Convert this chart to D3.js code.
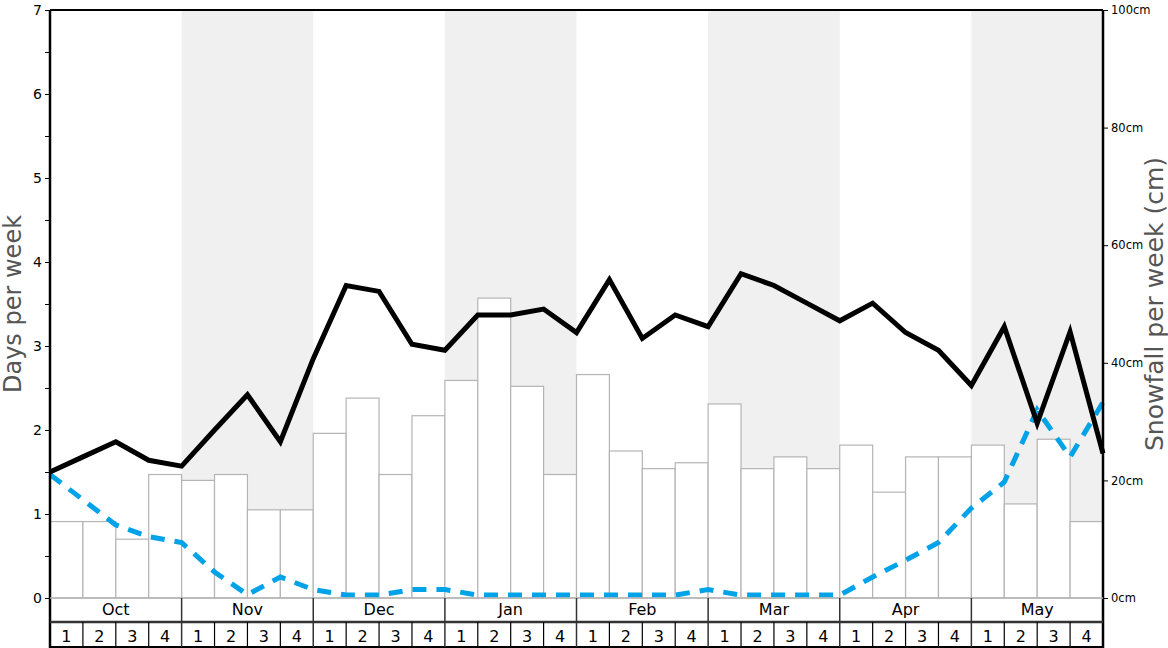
<!DOCTYPE html>
<html><head><meta charset="utf-8">
<script src="https://cdn.jsdelivr.net/npm/d3@7"></script>
<style>body{margin:0;background:#fff}svg{display:block;font-family:"DejaVu Sans",sans-serif}</style>
</head><body><svg id="c" width="1168" height="648"></svg>
<script>
const months = ["Oct","Nov","Dec","Jan","Feb","Mar","Apr","May"];
const weekLabels = ["1","2","3","4"];
const shadedMonths = ["Nov","Jan","Mar","May"];
// snowfall per week (cm), one per week
const snowfallCm = [13,13,10,21, 20,21,15,15, 28,34,21,31, 37,51,36,21, 38,25,22,23, 33,22,24,22, 26,18,24,24, 26,16,27,13];
// days per week lines, at week boundaries (33 points)
const blackDays = [1.5,1.68,1.86,1.64,1.57,2.0,2.42,1.86,2.85,3.72,3.65,3.02,2.95,3.37,3.37,3.44,3.16,3.79,3.09,3.37,3.23,3.86,3.72,3.51,3.30,3.51,3.16,2.95,2.53,3.23,2.08,3.17,1.72];
const blueDays = [1.47,1.17,0.87,0.73,0.66,0.31,0.04,0.25,0.1,0.035,0.035,0.1,0.1,0.035,0.035,0.035,0.035,0.035,0.035,0.035,0.1,0.035,0.035,0.035,0.035,0.25,0.45,0.66,1.07,1.38,2.24,1.68,2.33];
const leftTicks = [0,1,2,3,4,5,6,7];
const rightTicks = [0,20,40,60,80,100];

const svg = d3.select("#c");
const L = 50, R = 1103, T = 10, B = 598;
const nW = months.length * 4;
const x = d3.scaleLinear().domain([0, nW]).range([L, R]);
const yD = d3.scaleLinear().domain([0, 7]).range([B, T]);
const yC = d3.scaleLinear().domain([0, 100]).range([B, T]);

// shaded month bands
svg.selectAll("rect.band").data(months).enter().filter(m => shadedMonths.includes(m))
  .append("rect").attr("x", m => x(months.indexOf(m)*4)).attr("y", T)
  .attr("width", x(4)-x(0)).attr("height", B - T).attr("fill", "#f0f0f0");

// bars
svg.selectAll("rect.bar").data(snowfallCm).enter().append("rect")
  .attr("x", (d,i) => x(i)).attr("y", d => yC(d))
  .attr("width", x(1)-x(0)).attr("height", d => B - yC(d))
  .attr("fill", "#fff").attr("stroke", "#b4b4b4").attr("stroke-width", 1.2);

// lines
const line = d3.line().x((d,i) => x(i));
svg.append("path").datum(blueDays).attr("d", line.y(d => yD(d)))
  .attr("fill","none").attr("stroke","#00a2e8").attr("stroke-width",5).attr("stroke-dasharray","14,10");
svg.append("path").datum(blackDays).attr("d", line.y(d => yD(d)))
  .attr("fill","none").attr("stroke","#000").attr("stroke-width",5).attr("stroke-linejoin","miter");

// axes
const la = svg.append("g").attr("transform", `translate(${L},0)`)
  .call(d3.axisLeft(yD).tickValues(d3.range(0, 7.01, 0.5)).tickSize(5).tickFormat(d => Number.isInteger(d) ? d : ""));
la.select(".domain").remove();
la.selectAll("text").attr("font-size", 14).attr("fill","#000").attr("font-family","DejaVu Sans");
la.selectAll("line").attr("stroke","#000");
const ra = svg.append("g").attr("transform", `translate(${R},0)`)
  .call(d3.axisRight(yC).tickValues(rightTicks).tickSize(5).tickPadding(3).tickFormat(d => d + "cm"));
ra.select(".domain").remove();
ra.selectAll("text").attr("font-size", 11.5).attr("fill","#000").attr("font-family","DejaVu Sans");
ra.selectAll("line").attr("stroke","#000");

// frame
svg.append("line").attr("x1",L).attr("x2",R).attr("y1",T).attr("y2",T).attr("stroke","#000").attr("stroke-width",2);
svg.append("line").attr("x1",L).attr("x2",L).attr("y1",T).attr("y2",648).attr("stroke","#000").attr("stroke-width",2.5);
svg.append("line").attr("x1",R).attr("x2",R).attr("y1",T).attr("y2",648).attr("stroke","#000").attr("stroke-width",2.5);
svg.append("line").attr("x1",L).attr("x2",R).attr("y1",B).attr("y2",B).attr("stroke","#b4b4b4").attr("stroke-width",1.5);

// month row
const MY = 622, WY = 647;
svg.append("line").attr("x1",L).attr("x2",R).attr("y1",MY).attr("y2",MY).attr("stroke","#333").attr("stroke-width",2.5);
svg.append("line").attr("x1",L).attr("x2",R).attr("y1",WY).attr("y2",WY).attr("stroke","#000").attr("stroke-width",2);
months.forEach((m,mi) => {
  if (mi > 0) svg.append("line").attr("x1",x(mi*4)).attr("x2",x(mi*4)).attr("y1",B).attr("y2",WY).attr("stroke","#333").attr("stroke-width",1.5);
  svg.append("text").attr("x", x(mi*4+2)).attr("y", 615).attr("text-anchor","middle")
    .attr("font-size",16).attr("fill","#000").text(m);
  weekLabels.forEach((w,wi) => {
    const i = mi*4+wi;
    if (wi > 0) svg.append("line").attr("x1",x(i)).attr("x2",x(i)).attr("y1",MY).attr("y2",WY).attr("stroke","#000").attr("stroke-width",1.2);
    svg.append("text").attr("x", x(i+0.5)).attr("y", 642).attr("text-anchor","middle")
      .attr("font-size",16).attr("fill","#000").text(w);
  });
});

// axis titles
svg.append("text").attr("transform","translate(21,304) rotate(-90)").attr("text-anchor","middle")
  .attr("font-size",24).attr("fill","#555").text("Days per week");
svg.append("text").attr("transform","translate(1163,304) rotate(-90)").attr("text-anchor","middle")
  .attr("font-size",25).attr("fill","#555").text("Snowfall per week (cm)");
</script></body></html>
